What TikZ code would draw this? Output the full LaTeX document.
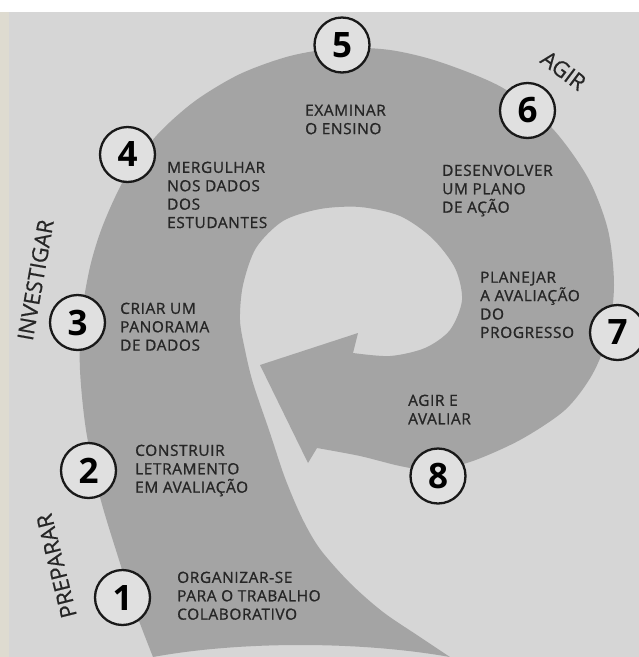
\documentclass[tikz,border=0pt]{standalone}
\usepackage{fontspec}
\setmainfont{Open Sans}
\newfontfamily\stepfont{Open Sans}[LetterSpace=4,FakeBold=1]
\newfontfamily\phasefont{Open Sans}[FakeBold=0.6]
\usepackage{tikz}
\definecolor{paper}{RGB}{214,214,214}
\definecolor{band}{RGB}{164,164,164}
\definecolor{disc}{RGB}{224,224,224}
\definecolor{ink}{RGB}{38,38,38}
\definecolor{edge}{RGB}{222,219,208}

\begin{document}
\begin{tikzpicture}[x=1pt,y=-1pt,
  stepnum/.style={circle,draw=black!90,line width=2.3pt,fill=disc,
                  minimum size=55pt,inner sep=0pt,
                  font=\fontsize{35}{35}\selectfont\bfseries},
  steptxt/.style={anchor=north west,align=left,inner sep=0pt,text=ink,
                  font=\stepfont\fontsize{15.4}{18.4}\selectfont},
  phase/.style={inner sep=0pt,text=ink,
                font=\phasefont\fontsize{22}{22}\selectfont}]

% ---- paper ----
\fill[white] (0,0) rectangle (639,657);
\fill[edge] (0,12) rectangle (9,657);
\fill[paper] (9,12) rectangle (639,657);
\useasboundingbox (0,0) rectangle (639,657);

% ---- spiral band with arrow head ----
\fill[band] (153,657)
  -- plot[smooth] coordinates {(153,657) (135,610) (120,563) (100,497)
     (86,430) (80,370) (81,320) (90,267) (103,225) (125,178) (157,135)
     (195,101) (240,74) (290,56) (340,48) (390,50) (440,62) (503,88)
     (552,128) (588,178) (608,230) (614,285) (608,335) (592,375)
     (565,410) (520,440) (470,462) (430,470) (400,466) (360,456) (317,448)}
  -- (308,463) -- (260,365) -- (358,333) -- (353,353)
  -- plot[smooth] coordinates {(353,353) (390,356) (425,348) (450,330)
     (462,300) (455,268) (432,238) (400,216) (360,207) (320,209)
     (283,221) (256,248) (243,285) (240,320) (245,350) (253,383)
     (270,433) (285,478) (302,518) (320,549) (350,583) (383,612)
     (420,637) (450,657)}
  .. controls (360,641) and (240,641) .. (153,657) -- cycle;

% ---- steps ----
\node[stepnum] (n1) at (122.5,597.5) {1};
\node[stepnum] (n2) at (88.5,470.5) {2};
\node[stepnum] (n3) at (77.5,322.5) {3};
\node[stepnum] (n4) at (127.5,154.5) {4};
\node[stepnum] (n5) at (342,45) {5};
\node[stepnum] (n6) at (527.5,110.5) {6};
\node[stepnum] (n7) at (617.5,332.5) {7};
\node[stepnum] (n8) at (438,476) {8};

\node[steptxt] (t1) at (177,571.5) {ORGANIZAR-SE\\PARA O TRABALHO\\COLABORATIVO};
\node[steptxt] (t2) at (135,444.5) {CONSTRUIR\\LETRAMENTO\\EM AVALIAÇÃO};
\node[steptxt] (t3) at (120,302.5) {CRIAR UM\\PANORAMA\\DE DADOS};
\node[steptxt] (t4) at (167,161.5) {MERGULHAR\\NOS DADOS\\DOS\\ESTUDANTES};
\node[steptxt] (t5) at (305,104.5) {EXAMINAR\\O ENSINO};
\node[steptxt] (t6) at (442,164.5) {DESENVOLVER\\UM PLANO\\DE AÇÃO};
\node[steptxt] (t7) at (480,271.5) {PLANEJAR\\A AVALIAÇÃO\\DO\\PROGRESSO};
\node[steptxt] (t8) at (408,394.5) {AGIR E\\AVALIAR};

% ---- phases ----
\node[phase,rotate=104] (prep) at (56.5,566) {PREPARAR};
\node[phase,rotate=80] (invest) at (35.5,280) {INVESTIGAR};
\node[phase,rotate=-37] (agir) at (563.5,70.5) {AGIR};
\end{tikzpicture}
\end{document}
